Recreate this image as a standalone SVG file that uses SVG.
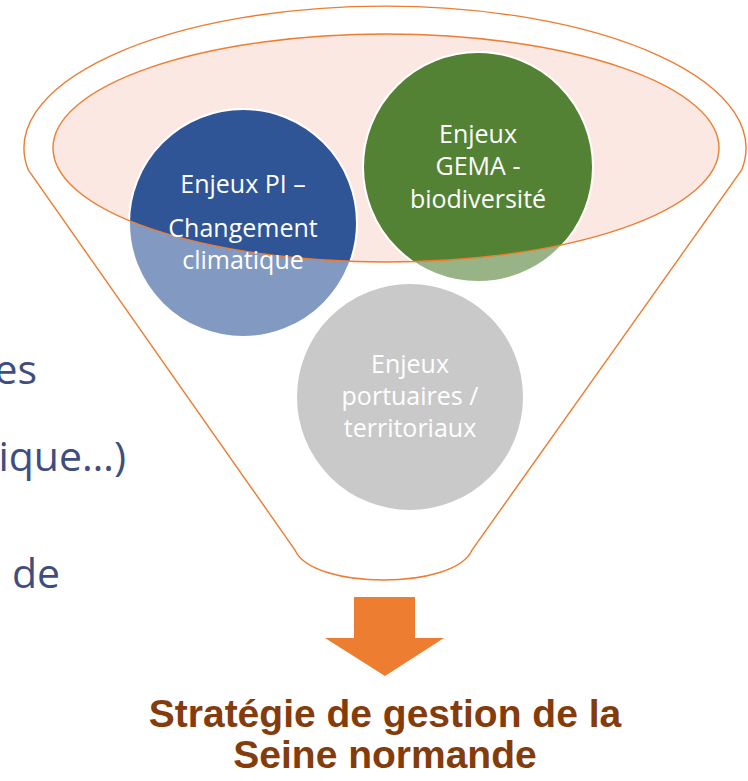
<svg xmlns="http://www.w3.org/2000/svg" width="748" height="781" viewBox="0 0 748 781">
  <style>
    .outline { fill: none; stroke: #ED7D31; stroke-width: 1.4; }
    .ring { fill: none; stroke: #FFFFFF; stroke-width: 2; }
    .lbl { font-family: "Open Sans", "Liberation Sans", sans-serif; font-size: 25px; fill: #FFFFFF; text-anchor: middle; }
    .side { font-family: "Open Sans", "Liberation Sans", sans-serif; font-size: 41px; fill: #3F4E7E; text-anchor: end; }
    .title { font-family: "Liberation Sans", Arial, sans-serif; font-weight: bold; font-size: 39px; fill: #843C0C; text-anchor: middle; }
  </style>
  <defs>
    <clipPath id="inner">
      <ellipse cx="386" cy="148" rx="333" ry="114"/>
    </clipPath>
  </defs>

  <rect width="748" height="781" fill="#FFFFFF"/>

  <!-- partially visible side text -->
  <g id="side-text">
    <text class="side" x="37" y="384">es</text>
    <text class="side" x="126" y="471">ique…)</text>
    <text class="side" x="60" y="588">de</text>
  </g>

  <!-- funnel -->
  <g id="funnel">
    <path class="outline" d="M28.3,170 A361,142 0 1 1 741.7,170 L472,550 C455,590 312,590 295,550 Z"/>
    <ellipse id="inner-fill" cx="386" cy="148" rx="333" ry="114" fill="#FBE8E3"/>
  </g>

  <!-- nodes -->
  <g id="node-pi">
    <circle cx="243" cy="223" r="114" fill="#2F5597" fill-opacity="0.6"/>
    <circle cx="243" cy="223" r="114" fill="#2F5597" clip-path="url(#inner)"/>
    <circle class="ring" cx="243" cy="223" r="114"/>
  </g>
  <g id="node-gema">
    <circle cx="478" cy="167" r="115" fill="#548235" fill-opacity="0.6"/>
    <circle cx="478" cy="167" r="115" fill="#548235" clip-path="url(#inner)"/>
    <circle class="ring" cx="478" cy="167" r="115"/>
  </g>
  <g id="node-port">
    <circle cx="410" cy="397" r="114" fill="#A5A5A5" fill-opacity="0.6"/>
    <circle class="ring" cx="410" cy="397" r="114"/>
  </g>

  <g id="inner-outline">
    <ellipse class="outline" cx="386" cy="148" rx="333" ry="114"/>
  </g>

  <g id="labels">
    <text class="lbl" x="243" y="193">Enjeux PI –</text>
    <text class="lbl" x="243" y="237">Changement</text>
    <text class="lbl" x="243" y="269">climatique</text>
    <text class="lbl" x="478" y="143">Enjeux</text>
    <text class="lbl" x="478" y="175">GEMA -</text>
    <text class="lbl" x="478" y="208">biodiversité</text>
    <text class="lbl" x="410" y="373">Enjeux</text>
    <text class="lbl" x="410" y="405">portuaires /</text>
    <text class="lbl" x="410" y="437">territoriaux</text>
  </g>

  <!-- connector -->
  <g id="connectors">
    <path d="M354,597 L415,597 L415,638 L444,638 L385,676 L325,638 L354,638 Z" fill="#ED7D31"/>
  </g>

  <g id="result">
    <text class="title" x="385" y="727">Stratégie de gestion de la</text>
    <text class="title" x="385" y="768">Seine normande</text>
  </g>
</svg>
